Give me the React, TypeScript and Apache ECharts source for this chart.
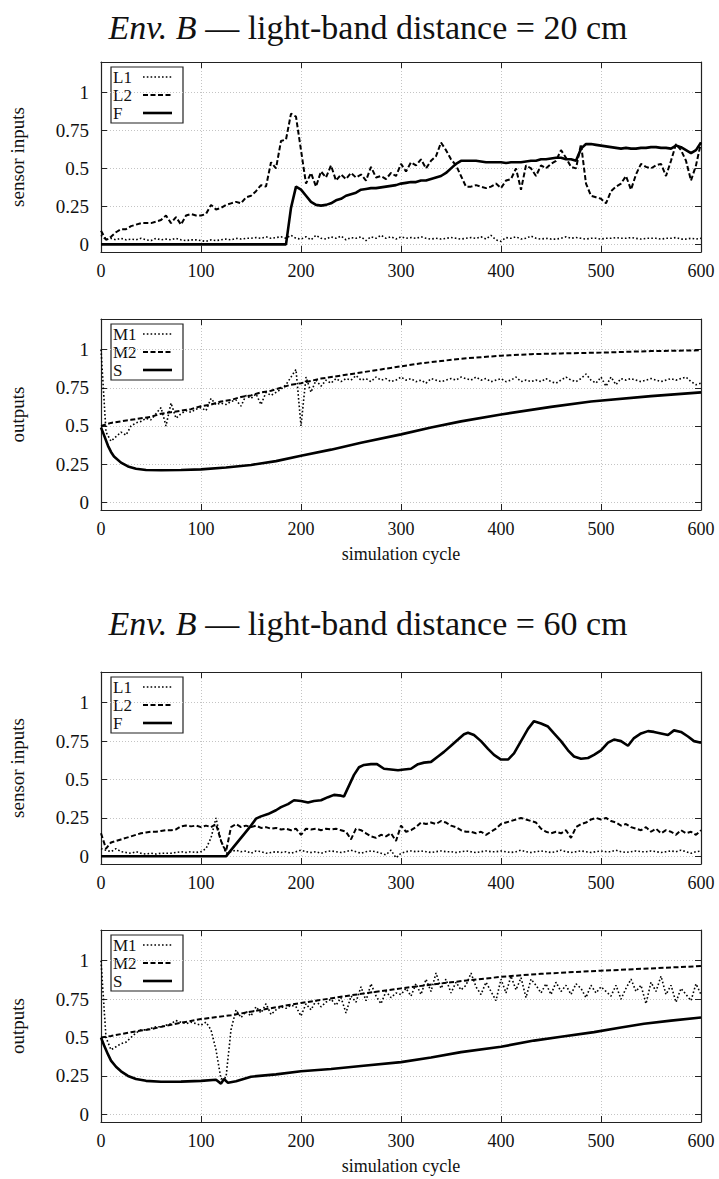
import React, { useEffect, useRef } from "react";
import * as echarts from "echarts";

// ---------- data (cycle grid step 5 for noisy series) ----------
const STEP5 = Array.from({ length: 121 }, (_, i) => i * 5);

// Panel 1: Env. B, 20 cm, sensor inputs
const P1_L1 = [
  0.06, 0.03, 0.04, 0.03, 0.04, 0.03, 0.035, 0.03, 0.04, 0.03,
  0.025, 0.04, 0.03, 0.035, 0.03, 0.04, 0.03, 0.025, 0.03, 0.03,
  0.025, 0.02, 0.03, 0.025, 0.03, 0.035, 0.03, 0.04, 0.035, 0.04,
  0.04, 0.045, 0.04, 0.05, 0.04, 0.045, 0.05, 0.04, 0.06, 0.04,
  0.035, 0.05, 0.03, 0.06, 0.04, 0.035, 0.05, 0.04, 0.055, 0.03,
  0.045, 0.04, 0.05, 0.025, 0.05, 0.04, 0.06, 0.04, 0.05, 0.035,
  0.05, 0.04, 0.045, 0.04, 0.05, 0.04, 0.035, 0.04, 0.035, 0.04,
  0.045, 0.04, 0.035, 0.04, 0.045, 0.04, 0.05, 0.035, 0.06, 0.03,
  0.02, 0.045, 0.04, 0.05, 0.035, 0.04, 0.055, 0.04, 0.035, 0.04,
  0.035, 0.035, 0.04, 0.05, 0.04, 0.045, 0.04, 0.035, 0.04, 0.04,
  0.035, 0.04, 0.04, 0.045, 0.04, 0.04, 0.045, 0.04, 0.035, 0.04,
  0.04, 0.04, 0.035, 0.04, 0.04, 0.045, 0.035, 0.035, 0.04, 0.035,
  0.04,
];
const P1_L2 = [
  0.09, 0.03, 0.05, 0.08, 0.1, 0.1, 0.12, 0.13, 0.14, 0.14,
  0.14, 0.15, 0.16, 0.19, 0.14, 0.18, 0.13, 0.19, 0.2, 0.19,
  0.19, 0.2, 0.26, 0.23, 0.24, 0.26, 0.27, 0.28, 0.27, 0.31,
  0.32, 0.35, 0.39, 0.38, 0.54, 0.5, 0.68, 0.69, 0.86, 0.84,
  0.62, 0.4, 0.47, 0.38, 0.48, 0.44, 0.52, 0.42, 0.46, 0.43,
  0.47, 0.44, 0.46, 0.42, 0.51, 0.44, 0.45, 0.43, 0.47, 0.45,
  0.53, 0.48, 0.54, 0.52, 0.56, 0.5, 0.55, 0.58, 0.67, 0.62,
  0.56, 0.52, 0.45, 0.38, 0.38, 0.39, 0.38, 0.37, 0.38, 0.4,
  0.37, 0.42, 0.43, 0.5, 0.36, 0.52, 0.5, 0.45, 0.52, 0.5,
  0.53, 0.55, 0.62, 0.57, 0.51, 0.5, 0.66, 0.4, 0.32, 0.31,
  0.3, 0.27, 0.35, 0.38, 0.4, 0.45, 0.36, 0.46, 0.53, 0.51,
  0.5, 0.52, 0.53, 0.45, 0.55, 0.66, 0.62, 0.55, 0.42, 0.52,
  0.67,
];
const P1_F = [
  0, 0, 0, 0, 0, 0, 0, 0, 0, 0,
  0, 0, 0, 0, 0, 0, 0, 0, 0, 0,
  0, 0, 0, 0, 0, 0, 0, 0, 0, 0,
  0, 0, 0, 0, 0, 0, 0, 0, 0.24, 0.38,
  0.36, 0.32, 0.28, 0.26, 0.255, 0.26, 0.27, 0.29, 0.3, 0.32,
  0.33, 0.34, 0.36, 0.365, 0.37, 0.37, 0.375, 0.38, 0.385, 0.39,
  0.4, 0.405, 0.41, 0.41, 0.42, 0.42, 0.43, 0.44, 0.45, 0.47,
  0.5, 0.53, 0.55, 0.55, 0.55, 0.55, 0.545, 0.54, 0.54, 0.54,
  0.54, 0.535, 0.54, 0.54, 0.54, 0.545, 0.55, 0.55, 0.56, 0.56,
  0.565, 0.57, 0.57, 0.56, 0.56, 0.55, 0.63, 0.66, 0.66, 0.655,
  0.65, 0.645, 0.64, 0.635, 0.63, 0.635, 0.63, 0.63, 0.635, 0.635,
  0.64, 0.64, 0.635, 0.635, 0.63, 0.65, 0.64, 0.62, 0.6, 0.62,
  0.67,
];

// Panel 2: Env. B, 20 cm, outputs
const P2_M1 = [
  1.0, 0.46, 0.4, 0.43, 0.46, 0.44, 0.5, 0.52, 0.53, 0.55,
  0.54, 0.58, 0.62, 0.5, 0.65, 0.55, 0.58, 0.6, 0.59, 0.61,
  0.62, 0.6, 0.68, 0.64, 0.65, 0.64, 0.66, 0.67, 0.63, 0.7,
  0.68, 0.71, 0.64, 0.72, 0.7, 0.72, 0.74, 0.77, 0.82, 0.87,
  0.5, 0.82, 0.72, 0.8, 0.76, 0.8, 0.78, 0.81, 0.79, 0.81,
  0.8, 0.83, 0.8, 0.81, 0.79, 0.82, 0.8, 0.81, 0.79, 0.8,
  0.82, 0.8, 0.81, 0.79, 0.8, 0.78, 0.81, 0.8, 0.79, 0.8,
  0.81, 0.8, 0.82, 0.81, 0.8, 0.82, 0.8, 0.81, 0.79, 0.8,
  0.81, 0.79, 0.8, 0.82, 0.79, 0.8, 0.79, 0.8, 0.79, 0.81,
  0.79, 0.78, 0.8, 0.82, 0.8, 0.79, 0.81, 0.84, 0.8, 0.78,
  0.82, 0.76, 0.82, 0.77, 0.81, 0.8, 0.81, 0.8, 0.79, 0.8,
  0.81, 0.8, 0.79, 0.8, 0.81, 0.8, 0.81, 0.82, 0.79, 0.77,
  0.78,
];
const P2_M2_X = [0, 10, 20, 30, 40, 50, 60, 70, 80, 90, 100, 110, 120, 130, 140, 150, 160, 170, 180, 190, 200, 220, 240, 260, 280, 300, 320, 340, 360, 380, 400, 430, 460, 500, 550, 600];
const P2_M2_Y = [0.5, 0.52, 0.53, 0.54, 0.55, 0.56, 0.58, 0.59, 0.6, 0.61, 0.63, 0.64, 0.66, 0.67, 0.69, 0.7, 0.72, 0.73, 0.75, 0.77, 0.78, 0.81, 0.83, 0.85, 0.87, 0.89, 0.91, 0.925, 0.94, 0.95, 0.96, 0.97, 0.975, 0.98, 0.99, 0.995];
const P2_S_X = [0, 3, 7, 10, 13, 20, 27, 35, 45, 60, 80, 100, 125, 150, 175, 200, 230, 260, 300, 330, 360, 400, 450, 490, 550, 600];
const P2_S_Y = [0.49, 0.44, 0.37, 0.33, 0.3, 0.26, 0.235, 0.22, 0.212, 0.21, 0.212, 0.216, 0.228, 0.245, 0.27, 0.305, 0.345, 0.39, 0.445, 0.49, 0.53, 0.575, 0.625, 0.66, 0.695, 0.72];

// Panel 3: Env. B, 60 cm, sensor inputs
const P3_L1 = [
  0.05, 0.04, 0.03, 0.05, 0.03, 0.025, 0.02, 0.03, 0.02, 0.015,
  0.02, 0.015, 0.02, 0.02, 0.02, 0.025, 0.03, 0.025, 0.03, 0.025,
  0.03, 0.05, 0.12, 0.25, 0.1, 0.02, 0.03, 0.04, 0.03, 0.035,
  0.02, 0.035, 0.03, 0.02, 0.025, 0.03, 0.025, 0.03, 0.02, 0.03,
  0.04, 0.03, 0.025, 0.03, 0.02, 0.03, 0.035, 0.03, 0.025, 0.03,
  0.04, 0.03, 0.02, 0.03, 0.035, 0.03, 0.02, 0.01, 0.04, -0.01,
  0.02, 0.03, 0.035, 0.03, 0.035, 0.03, 0.025, 0.03, 0.035, 0.03,
  0.03, 0.025, 0.03, 0.035, 0.03, 0.025, 0.03, 0.035, 0.03, 0.03,
  0.035, 0.03, 0.025, 0.03, 0.04, 0.03, 0.025, 0.03, 0.035, 0.03,
  0.025, 0.03, 0.04, 0.03, 0.025, 0.03, 0.035, 0.03, 0.025, 0.03,
  0.035, 0.03, 0.03, 0.04, 0.03, 0.025, 0.03, 0.035, 0.03, 0.03,
  0.035, 0.03, 0.025, 0.03, 0.035, 0.03, 0.04, 0.03, 0.02, 0.03,
  0.035,
];
const P3_L2 = [
  0.15, 0.05, 0.09, 0.1, 0.11, 0.12, 0.13, 0.14, 0.15, 0.155,
  0.16, 0.16, 0.165, 0.17, 0.17, 0.175, 0.195, 0.2, 0.195, 0.2,
  0.19, 0.2, 0.19, 0.21, 0.1, 0.03, 0.19, 0.21, 0.19, 0.2,
  0.19, 0.2, 0.185, 0.19, 0.18, 0.185, 0.175, 0.18, 0.17, 0.18,
  0.14, 0.18, 0.175, 0.18, 0.17, 0.18, 0.175, 0.18, 0.17, 0.16,
  0.11, 0.18, 0.17, 0.15, 0.13, 0.12, 0.14, 0.13, 0.15, 0.1,
  0.2, 0.16, 0.17, 0.19, 0.22, 0.21, 0.22, 0.21, 0.23, 0.22,
  0.2, 0.19, 0.17, 0.16, 0.16, 0.15, 0.16, 0.14, 0.16, 0.18,
  0.21, 0.22, 0.23, 0.24, 0.25, 0.24, 0.23, 0.22, 0.18, 0.16,
  0.15, 0.16, 0.15, 0.17, 0.12, 0.19, 0.21, 0.22, 0.24, 0.25,
  0.24, 0.25, 0.23, 0.22, 0.2, 0.21, 0.19, 0.18, 0.17, 0.19,
  0.16, 0.18, 0.15, 0.17, 0.16, 0.14, 0.17, 0.15, 0.16, 0.14,
  0.17,
];
const P3_F_X = [0, 120, 125, 130, 140, 150, 155, 160, 167, 175, 180, 187, 193, 200, 207, 213, 220, 227, 233, 240, 243, 248, 253, 258, 263, 270, 276, 283, 290, 297, 303, 310, 317, 323, 330, 337, 343, 350, 357, 363, 367, 373, 380, 387, 393, 400, 407, 413, 420, 427, 433, 440, 447, 453, 460, 467, 473, 480, 487, 493, 500, 507, 513, 520, 527, 533, 540, 547, 553, 560, 567, 573, 580, 587, 593, 600];
const P3_F_Y = [0, 0, 0, 0.04, 0.12, 0.2, 0.245, 0.26, 0.275, 0.3, 0.32, 0.34, 0.365, 0.36, 0.35, 0.36, 0.365, 0.385, 0.4, 0.395, 0.39, 0.46, 0.53, 0.58, 0.595, 0.6, 0.6, 0.57, 0.565, 0.56, 0.565, 0.57, 0.6, 0.61, 0.615, 0.65, 0.68, 0.72, 0.76, 0.795, 0.805, 0.79, 0.75, 0.7, 0.66, 0.63, 0.63, 0.67, 0.75, 0.83, 0.88, 0.865, 0.845, 0.8, 0.75, 0.69, 0.65, 0.635, 0.64, 0.66, 0.69, 0.74, 0.76, 0.75, 0.72, 0.77, 0.8, 0.815, 0.81, 0.8, 0.79, 0.82, 0.81, 0.78, 0.75, 0.74];

// Panel 4: Env. B, 60 cm, outputs
const P4_M1 = [
  1.0, 0.5, 0.42, 0.44, 0.46, 0.47, 0.5, 0.53, 0.55, 0.55,
  0.56, 0.57, 0.57, 0.58, 0.59, 0.61, 0.6, 0.59, 0.6, 0.59,
  0.58, 0.6, 0.55, 0.42, 0.23, 0.24, 0.55, 0.68, 0.63, 0.67,
  0.64, 0.7, 0.66, 0.72, 0.65, 0.68, 0.7, 0.69, 0.71, 0.7,
  0.64, 0.72, 0.68, 0.74, 0.7, 0.73, 0.75, 0.71, 0.76, 0.66,
  0.77, 0.73, 0.83, 0.74, 0.85, 0.77, 0.72, 0.8, 0.76, 0.79,
  0.78, 0.82, 0.77, 0.85, 0.78, 0.88, 0.8, 0.92, 0.82, 0.88,
  0.79, 0.86, 0.81, 0.84, 0.92, 0.83, 0.78, 0.86, 0.8, 0.74,
  0.88, 0.79, 0.9, 0.81, 0.89, 0.76, 0.88, 0.84, 0.79, 0.85,
  0.78, 0.86, 0.8, 0.84, 0.78, 0.85, 0.82, 0.76, 0.84, 0.79,
  0.83, 0.8, 0.77, 0.84, 0.75, 0.82, 0.88, 0.8, 0.84, 0.72,
  0.86, 0.8, 0.9, 0.78, 0.84, 0.73, 0.82, 0.78, 0.74, 0.85,
  0.78,
];
const P4_M2_X = [0, 10, 30, 50, 75, 100, 130, 160, 200, 250, 300, 350, 400, 440, 500, 550, 600];
const P4_M2_Y = [0.5, 0.51, 0.535, 0.555, 0.59, 0.62, 0.645, 0.68, 0.725, 0.775, 0.82, 0.86, 0.895, 0.915, 0.935, 0.95, 0.965];
const P4_S_X = [0, 3, 7, 10, 15, 20, 27, 35, 45, 60, 80, 100, 115, 120, 123, 127, 135, 150, 175, 200, 230, 260, 300, 330, 360, 400, 433, 460, 493, 520, 543, 570, 600];
const P4_S_Y = [0.5, 0.45, 0.39, 0.35, 0.31, 0.28, 0.25, 0.23, 0.218, 0.212, 0.213, 0.218, 0.225, 0.2, 0.23, 0.205, 0.215, 0.245, 0.26, 0.28, 0.295, 0.315, 0.34, 0.37, 0.405, 0.44, 0.48, 0.505, 0.535, 0.565, 0.59, 0.61, 0.63];

const Y_TICKS = [0, 0.25, 0.5, 0.75, 1];
const X_NAME = "simulation cycle";
const TITLES = ["light-band distance = 20 cm", "light-band distance = 60 cm"];
const ENV = "Env. B";
const LEGEND_INPUTS = ["L1", "L2", "F"];
const LEGEND_OUTPUTS = ["M1", "M2", "S"];

// ---------- helpers ----------
const pair = (xs: number[], ys: number[]) => xs.map((x, i) => [x, ys[i]]);
const FONT = "Liberation Serif";

const GRIDS = [
  { top: 62, height: 190, yName: "sensor inputs", xName: "", legend: LEGEND_INPUTS },
  { top: 319, height: 191, yName: "outputs", xName: X_NAME, legend: LEGEND_OUTPUTS },
  { top: 672, height: 192, yName: "sensor inputs", xName: "", legend: LEGEND_INPUTS },
  { top: 930, height: 192, yName: "outputs", xName: X_NAME, legend: LEGEND_OUTPUTS },
];

const DOTTED = { color: "#000", width: 1.6, type: [1.6, 2.2] };
const DASHED = { color: "#000", width: 2, type: [5, 2.5] };
const SOLID = { color: "#000", width: 2.6, type: "solid" };
const STYLES = [DOTTED, DASHED, SOLID];

function buildOption() {
  const axisLine = { show: true, onZero: false, lineStyle: { color: "#222", width: 1.2 } };
  const tick = { show: true, inside: true, length: 6, lineStyle: { color: "#222", width: 1 } };
  const split = { show: true, lineStyle: { color: "#c4c4c4", width: 1, type: [1, 2] } };
  const xAxis: any[] = [];
  const yAxis: any[] = [];
  GRIDS.forEach((g, k) => {
    xAxis.push({
      gridIndex: k, type: "value", min: 0, max: 600, interval: 100, position: "bottom",
      axisLine, axisTick: tick, splitLine: split,
      axisLabel: { fontFamily: FONT, fontSize: 18, color: "#111", margin: 10 },
      name: g.xName, nameLocation: "middle", nameGap: 35,
      nameTextStyle: { fontFamily: FONT, fontSize: 18, color: "#111" },
    });
    xAxis.push({
      gridIndex: k, type: "value", min: 0, max: 600, interval: 100, position: "top",
      axisLine, axisTick: tick, splitLine: { show: false }, axisLabel: { show: false },
    });
    yAxis.push({
      gridIndex: k, type: "value", min: -0.05, max: 1.2, position: "left",
      axisLine,
      axisTick: { ...tick, customValues: Y_TICKS },
      splitLine: split,
      axisLabel: { customValues: Y_TICKS, fontFamily: FONT, fontSize: 19, color: "#111", margin: 12 },
      name: g.yName, nameLocation: "middle", nameGap: 74, nameRotate: 90,
      nameTextStyle: { fontFamily: FONT, fontSize: 19, color: "#111" },
    });
    yAxis.push({
      gridIndex: k, type: "value", min: -0.05, max: 1.2, position: "right",
      axisLine,
      axisTick: { ...tick, customValues: Y_TICKS },
      splitLine: { show: false }, axisLabel: { show: false },
    });
  });

  const mk = (name: string, k: number, data: any[], lineStyle: any, z: number) => ({
    name, type: "line", xAxisIndex: 2 * k, yAxisIndex: 2 * k, data,
    symbol: "none", showSymbol: false, lineStyle, z, silent: true, color: "#000",
    emphasis: { disabled: true },
  });

  const series = [
    mk("L1", 0, pair(STEP5, P1_L1), DOTTED, 3),
    mk("L2", 0, pair(STEP5, P1_L2), DASHED, 3),
    mk("F", 0, pair(STEP5, P1_F), SOLID, 4),
    mk("M1", 1, pair(STEP5, P2_M1), DOTTED, 3),
    mk("M2", 1, pair(P2_M2_X, P2_M2_Y), DASHED, 3),
    mk("S", 1, pair(P2_S_X, P2_S_Y), SOLID, 4),
    mk("L1", 2, pair(STEP5, P3_L1), DOTTED, 3),
    mk("L2", 2, pair(STEP5, P3_L2), DASHED, 3),
    mk("F", 2, pair(P3_F_X, P3_F_Y), SOLID, 4),
    mk("M1", 3, pair(STEP5, P4_M1), DOTTED, 3),
    mk("M2", 3, pair(P4_M2_X, P4_M2_Y), DASHED, 3),
    mk("S", 3, pair(P4_S_X, P4_S_Y), SOLID, 4),
  ];

  // legend boxes drawn as graphics (text first, line sample to the right)
  const graphic: any[] = [];
  GRIDS.forEach((g) => {
    const bx = 111, by = g.top + 5;
    const children: any[] = [
      { type: "rect", shape: { x: 0, y: 0, width: 72, height: 56 }, style: { fill: "#fff", stroke: "#222", lineWidth: 1.2 } },
    ];
    g.legend.forEach((name, i) => {
      const cy = 10 + i * 18;
      children.push({
        type: "text", x: 2, y: cy,
        style: { text: name, fontFamily: FONT, fontSize: 17, fill: "#111", align: "left", verticalAlign: "middle" },
      });
      const st = STYLES[i];
      children.push({
        type: "line", shape: { x1: 32, y1: cy, x2: 61, y2: cy },
        style: { stroke: "#000", lineWidth: st.width, lineDash: Array.isArray(st.type) ? st.type : null },
      });
    });
    graphic.push({ type: "group", x: bx, y: by, z: 20, silent: true, children });
  });

  const titleY = [27, 623];
  TITLES.forEach((t, i) => {
    graphic.push({
      type: "text", x: 368, y: titleY[i], silent: true, z: 10,
      style: {
        text: `{i|${ENV}}{r| — ${t}}`,
        fontFamily: FONT, fontSize: 34, fill: "#111",
        align: "center", verticalAlign: "middle",
        rich: {
          i: { fontStyle: "italic", fontFamily: FONT, fontSize: 34, fill: "#111" },
          r: { fontFamily: FONT, fontSize: 34, fill: "#111" },
        },
      },
    });
  });

  return {
    animation: false,
    backgroundColor: "#fff",
    grid: GRIDS.map((g) => ({ left: 100, right: 18, top: g.top, height: g.height, containLabel: false })),
    xAxis, yAxis, series, graphic,
  };
}

export default function App() {
  const ref = useRef<HTMLDivElement>(null);
  useEffect(() => {
    if (!ref.current) return;
    const chart = echarts.init(ref.current, null, { renderer: "svg" });
    chart.setOption(buildOption() as any);
    return () => chart.dispose();
  }, []);
  return (
    <div
      ref={ref}
      style={{ position: "absolute", left: 0, top: 0, width: 719, height: 1179, background: "#fff" }}
    />
  );
}
